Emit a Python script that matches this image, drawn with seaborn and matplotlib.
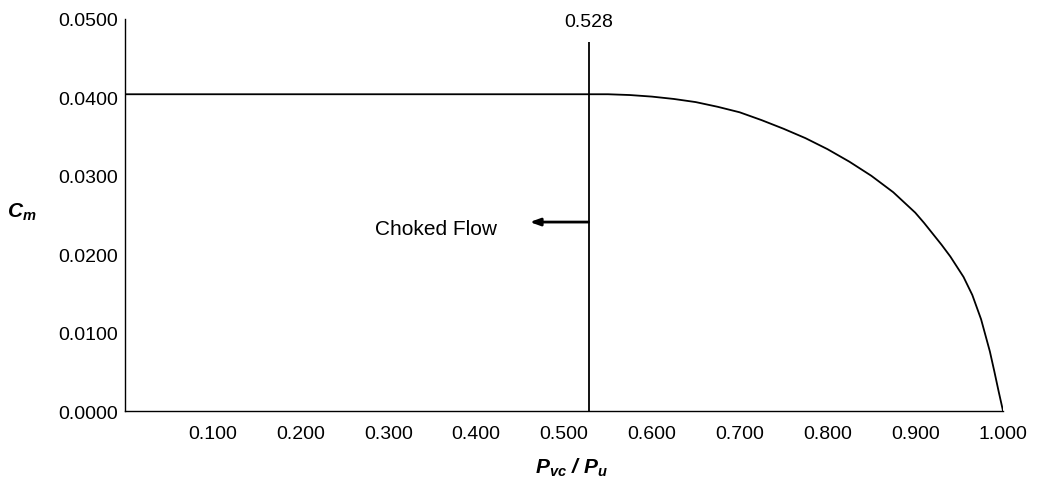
import matplotlib
matplotlib.use("Agg")
import matplotlib.pyplot as plt
import seaborn as sns
import pandas as pd

# Data
pressure_ratio = [0.0, 0.528, 0.550, 0.575, 0.600, 0.625, 0.650, 0.675, 0.700, 0.725,
                  0.750, 0.775, 0.800, 0.825, 0.850, 0.875, 0.900, 0.910, 0.920,
                  0.930, 0.940, 0.955, 0.965, 0.975, 0.985, 0.990, 0.995, 1.000]
cm_values = [0.0404, 0.0404, 0.0404, 0.0403, 0.0401, 0.0398, 0.0394, 0.0388, 0.0381,
             0.0371, 0.0360, 0.0348, 0.0334, 0.0318, 0.0300, 0.0279, 0.0253, 0.0240,
             0.0226, 0.0212, 0.0197, 0.0171, 0.0148, 0.0117, 0.0076, 0.0051, 0.0025,
             0.0]
x_ticks = [0.1, 0.2, 0.3, 0.4, 0.5, 0.6, 0.7, 0.8, 0.9, 1.0]
y_ticks = [0.0, 0.01, 0.02, 0.03, 0.04, 0.05]
critical_ratio = 0.528
vline_top = 0.0471
arrow_y = 0.0241
arrow_end = 0.461

sns.set_theme(style="white")
plt.rcParams['font.family'] = ['Liberation Sans', 'DejaVu Sans']
plt.rcParams['text.color'] = 'black'
plt.rcParams['axes.labelcolor'] = 'black'
plt.rcParams['xtick.color'] = 'black'
plt.rcParams['ytick.color'] = 'black'
plt.rcParams['mathtext.fontset'] = 'custom'
plt.rcParams['mathtext.rm'] = 'Liberation Sans'
plt.rcParams['mathtext.it'] = 'Liberation Sans:italic'
plt.rcParams['mathtext.bf'] = 'Liberation Sans:bold'
plt.rcParams['mathtext.bfit'] = 'Liberation Sans:bold:italic'

df = pd.DataFrame({"ratio": pressure_ratio, "cm": cm_values})

fig = plt.figure(figsize=(10.42, 4.85), dpi=100)
ax = fig.add_axes([0.12, 0.1505, 0.8426, 0.8083])

sns.lineplot(data=df, x="ratio", y="cm", ax=ax, color="black", linewidth=1.3,
             estimator=None, sort=True)

ax.vlines(critical_ratio, 0, vline_top, color="black", linewidth=1.3)
ax.annotate("", xy=(arrow_end, arrow_y), xytext=(critical_ratio, arrow_y),
            arrowprops=dict(arrowstyle="-|>,head_length=0.5,head_width=0.18",
                            lw=2.0, color="black", shrinkA=0, shrinkB=0))
ax.text(0.424, 0.0233, "Choked Flow", ha="right", va="center", fontsize=15,
        color="black")
ax.text(critical_ratio, 0.0497, "0.528", ha="center", va="center", fontsize=14,
        color="black", clip_on=False)

ax.set_xlim(0, 1.0)
ax.set_ylim(0, 0.05)
ax.set_xticks(x_ticks)
ax.set_xticklabels([f"{v:.3f}" for v in x_ticks], fontsize=14)
ax.set_yticks(y_ticks)
ax.set_yticklabels([f"{v:.4f}" for v in y_ticks], fontsize=14)
ax.tick_params(axis="both", direction="out", length=3, width=1, colors="black",
               labelcolor="black")
ax.tick_params(axis="x", pad=7)
ax.tick_params(axis="y", pad=2)

for s in ["top", "right"]:
    ax.spines[s].set_visible(False)
for s in ["left", "bottom"]:
    ax.spines[s].set_color("black")
    ax.spines[s].set_linewidth(1.0)

ax.set_xlabel(r"$\mathbfit{P_{vc}\ /\ P_u}$", fontsize=15, color="black")
ax.set_ylabel(r"$\mathbfit{C_m}$", fontsize=15, rotation=0, color="black")
ax.xaxis.set_label_coords(0.509, -0.143)
ax.yaxis.set_label_coords(-0.117, 0.51)
ax.xaxis.label.set_va("center")
ax.yaxis.label.set_va("center")

fig.savefig("out.png", dpi=100, facecolor="white")
